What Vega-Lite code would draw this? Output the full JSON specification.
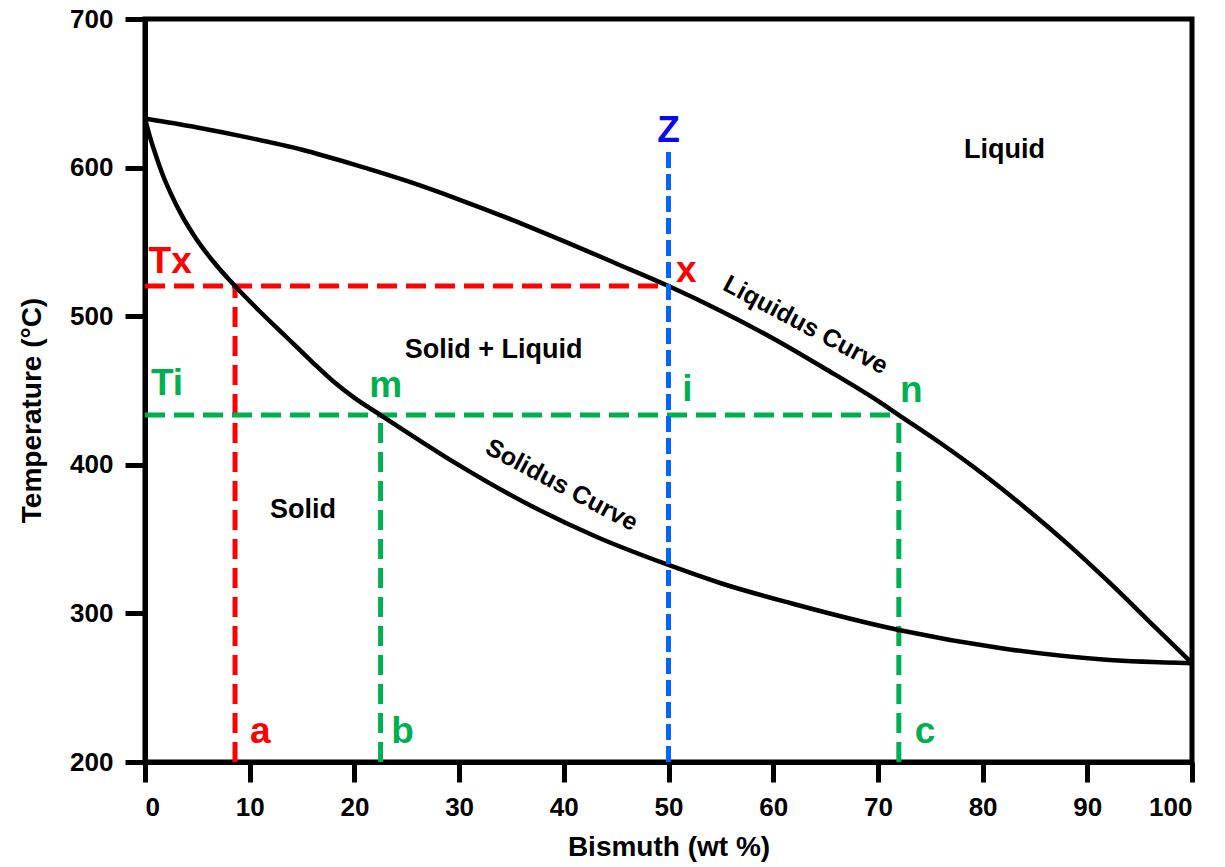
{
  "$schema": "https://vega.github.io/schema/vega-lite/v6.json",
  "width": 1047,
  "height": 743,
  "autosize": {"type": "none"},
  "padding": {"left": 145, "top": 19, "right": 33, "bottom": 105},
  "background": "white",
  "config": {
    "font": "Liberation Sans",
    "view": {"stroke": "black", "strokeWidth": 5},
    "axis": {
      "grid": false,
      "domainColor": "black",
      "domainWidth": 5,
      "tickColor": "black",
      "tickWidth": 5,
      "tickSize": 20,
      "labelFont": "Liberation Sans",
      "labelFontWeight": "bold",
      "labelFontSize": 26,
      "labelColor": "black",
      "labelPadding": 12,
      "titleFont": "Liberation Sans",
      "titleFontWeight": "bold",
      "titleFontSize": 28,
      "titleColor": "black"
    }
  },
  "resolve": {"scale": {"color": "independent"}},
  "datasets": {
    "curves": [
      {"curve": "Liquidus", "x": 0, "T": 633},
      {"curve": "Liquidus", "x": 5, "T": 627},
      {"curve": "Liquidus", "x": 10, "T": 620},
      {"curve": "Liquidus", "x": 15, "T": 612},
      {"curve": "Liquidus", "x": 20, "T": 602},
      {"curve": "Liquidus", "x": 25, "T": 591},
      {"curve": "Liquidus", "x": 30, "T": 578.5},
      {"curve": "Liquidus", "x": 35, "T": 565},
      {"curve": "Liquidus", "x": 40, "T": 550.5},
      {"curve": "Liquidus", "x": 45, "T": 535.5},
      {"curve": "Liquidus", "x": 50, "T": 520.3},
      {"curve": "Liquidus", "x": 55, "T": 503.5},
      {"curve": "Liquidus", "x": 60, "T": 485},
      {"curve": "Liquidus", "x": 65, "T": 464.5},
      {"curve": "Liquidus", "x": 70, "T": 443},
      {"curve": "Liquidus", "x": 72, "T": 433.5},
      {"curve": "Liquidus", "x": 76, "T": 414.5},
      {"curve": "Liquidus", "x": 80, "T": 394},
      {"curve": "Liquidus", "x": 84, "T": 371.5},
      {"curve": "Liquidus", "x": 88, "T": 347.5},
      {"curve": "Liquidus", "x": 92, "T": 321.5},
      {"curve": "Liquidus", "x": 96, "T": 294},
      {"curve": "Liquidus", "x": 100, "T": 266.5},
      {"curve": "Solidus", "x": 0, "T": 633},
      {"curve": "Solidus", "x": 0.5, "T": 620},
      {"curve": "Solidus", "x": 1, "T": 609},
      {"curve": "Solidus", "x": 1.7, "T": 595},
      {"curve": "Solidus", "x": 2.5, "T": 582},
      {"curve": "Solidus", "x": 3.5, "T": 568},
      {"curve": "Solidus", "x": 4.9, "T": 552},
      {"curve": "Solidus", "x": 6.5, "T": 537},
      {"curve": "Solidus", "x": 8.6, "T": 520.3},
      {"curve": "Solidus", "x": 11, "T": 503},
      {"curve": "Solidus", "x": 13.5, "T": 486},
      {"curve": "Solidus", "x": 16, "T": 469},
      {"curve": "Solidus", "x": 18, "T": 456},
      {"curve": "Solidus", "x": 20, "T": 445},
      {"curve": "Solidus", "x": 22.5, "T": 433.5},
      {"curve": "Solidus", "x": 29.7, "T": 401},
      {"curve": "Solidus", "x": 36.4, "T": 374.1},
      {"curve": "Solidus", "x": 43.1, "T": 351.6},
      {"curve": "Solidus", "x": 50, "T": 332.6},
      {"curve": "Solidus", "x": 55, "T": 320.3},
      {"curve": "Solidus", "x": 61.7, "T": 306.8},
      {"curve": "Solidus", "x": 72, "T": 288.8},
      {"curve": "Solidus", "x": 81.8, "T": 276.5},
      {"curve": "Solidus", "x": 91.8, "T": 268.8},
      {"curve": "Solidus", "x": 100, "T": 266.5}
    ],
    "guides": [
      {"grp": "red", "x": 0, "x2": 50, "T": 520.3, "T2": 520.3},
      {"grp": "red", "x": 8.6, "x2": 8.6, "T": 200, "T2": 520.3},
      {"grp": "green", "x": 0, "x2": 72, "T": 433.5, "T2": 433.5},
      {"grp": "green", "x": 22.5, "x2": 22.5, "T": 200, "T2": 433.5},
      {"grp": "green", "x": 72, "x2": 72, "T": 200, "T2": 433.5},
      {"grp": "blue", "x": 50, "x2": 50, "T": 200, "T2": 611}
    ],
    "letters": [
      {"label": "Z", "grp": "blue", "x": 50, "T": 617},
      {"label": "Tx", "grp": "red", "x": 2.4, "T": 529},
      {"label": "x", "grp": "red", "x": 51.7, "T": 523},
      {"label": "Ti", "grp": "green", "x": 2.1, "T": 447},
      {"label": "m", "grp": "green", "x": 23.0, "T": 445.6},
      {"label": "i", "grp": "green", "x": 51.8, "T": 443},
      {"label": "n", "grp": "green", "x": 73.2, "T": 442},
      {"label": "a", "grp": "red", "x": 11.0, "T": 212.8},
      {"label": "b", "grp": "green", "x": 24.6, "T": 212.8},
      {"label": "c", "grp": "green", "x": 74.5, "T": 212.8}
    ],
    "regions": [
      {"label": "Liquid", "x": 82.1, "T": 606.5},
      {"label": "Solid + Liquid", "x": 33.3, "T": 471.9},
      {"label": "Solid", "x": 15.1, "T": 364.2}
    ],
    "curvelabels": [
      {"label": "Liquidus Curve", "x": 63.1, "T": 494.1},
      {"label": "Solidus Curve", "x": 39.8, "T": 386.4}
    ]
  },
  "layer": [
    {
      "data": {"name": "guides"},
      "transform": [{"filter": "datum.grp !== 'blue'"}],
      "mark": {"type": "rule", "strokeWidth": 5, "strokeDash": [20, 9]},
      "encoding": {
        "x": {"field": "x", "type": "quantitative", "scale": {"domain": [0, 100], "nice": false, "zero": false},
              "axis": {"values": [0, 10, 20, 30, 40, 50, 60, 70, 80, 90, 100], "title": "Bismuth (wt %)", "titleX": 523.5, "titleY": 93, "titleBaseline": "alphabetic"}},
        "x2": {"field": "x2"},
        "y": {"field": "T", "type": "quantitative", "scale": {"domain": [200, 700], "nice": false, "zero": false},
              "axis": {"values": [200, 300, 400, 500, 600, 700], "title": "Temperature (°C)", "titleX": -113, "titleY": 391, "titleAngle": -90, "titleAlign": "center", "titleBaseline": "middle"}},
        "y2": {"field": "T2"},
        "color": {"field": "grp", "type": "nominal", "scale": {"domain": ["red", "green"], "range": ["#FF0000", "#00B050"]}, "legend": null}
      }
    },
    {
      "data": {"name": "curves"},
      "mark": {"type": "line", "color": "black", "strokeWidth": 4.5, "interpolate": "monotone"},
      "encoding": {
        "x": {"field": "x", "type": "quantitative"},
        "y": {"field": "T", "type": "quantitative"},
        "detail": {"field": "curve", "type": "nominal"}
      }
    },
    {
      "data": {"name": "guides"},
      "transform": [{"filter": "datum.grp === 'blue'"}],
      "mark": {"type": "rule", "strokeWidth": 5, "strokeDash": [16, 6], "color": "#0066FF"},
      "encoding": {
        "x": {"field": "x", "type": "quantitative"},
        "x2": {"field": "x2"},
        "y": {"field": "T", "type": "quantitative"},
        "y2": {"field": "T2"}
      }
    },
    {
      "data": {"name": "letters"},
      "mark": {"type": "text", "fontSize": 37, "fontWeight": "bold", "align": "center", "baseline": "alphabetic"},
      "encoding": {
        "x": {"field": "x", "type": "quantitative"},
        "y": {"field": "T", "type": "quantitative"},
        "text": {"field": "label", "type": "nominal"},
        "color": {"field": "grp", "type": "nominal", "scale": {"domain": ["red", "green", "blue"], "range": ["#FF0000", "#00B050", "#0A0AEB"]}, "legend": null}
      }
    },
    {
      "data": {"name": "regions"},
      "mark": {"type": "text", "fontSize": 27, "fontWeight": "bold", "align": "center", "baseline": "alphabetic", "color": "black"},
      "encoding": {
        "x": {"field": "x", "type": "quantitative"},
        "y": {"field": "T", "type": "quantitative"},
        "text": {"field": "label", "type": "nominal"}
      }
    },
    {
      "data": {"name": "curvelabels"},
      "mark": {"type": "text", "fontSize": 25, "fontWeight": "bold", "align": "center", "baseline": "middle", "angle": 28, "color": "black"},
      "encoding": {
        "x": {"field": "x", "type": "quantitative"},
        "y": {"field": "T", "type": "quantitative"},
        "text": {"field": "label", "type": "nominal"}
      }
    }
  ]
}
